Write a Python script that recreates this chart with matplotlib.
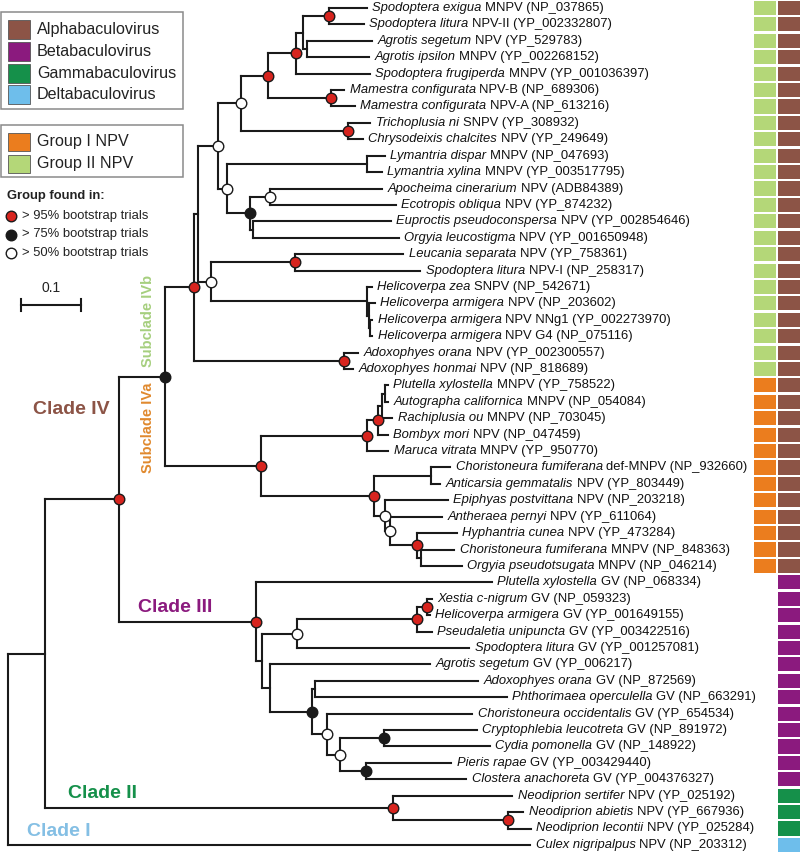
import re
import matplotlib
matplotlib.use('Agg')
import matplotlib.pyplot as plt
import matplotlib.transforms as mtransforms
from matplotlib.collections import LineCollection
from matplotlib.patches import Rectangle

plt.rcParams['font.family'] = ['Liberation Sans', 'DejaVu Sans']

# leaf labels, top to bottom (italic species part + plain rest)
species = [
    'Spodoptera exigua', 'Spodoptera litura', 'Agrotis segetum', 'Agrotis ipsilon',
    'Spodoptera frugiperda', 'Mamestra configurata', 'Mamestra configurata',
    'Trichoplusia ni', 'Chrysodeixis chalcites', 'Lymantria dispar', 'Lymantria xylina',
    'Apocheima cinerarium', 'Ecotropis obliqua', 'Euproctis pseudoconspersa',
    'Orgyia leucostigma', 'Leucania separata', 'Spodoptera litura', 'Helicoverpa zea',
    'Helicoverpa armigera', 'Helicoverpa armigera', 'Helicoverpa armigera',
    'Adoxophyes orana', 'Adoxophyes honmai', 'Plutella xylostella',
    'Autographa californica', 'Rachiplusia ou', 'Bombyx mori', 'Maruca vitrata',
    'Choristoneura fumiferana', 'Anticarsia gemmatalis', 'Epiphyas postvittana',
    'Antheraea pernyi', 'Hyphantria cunea', 'Choristoneura fumiferana',
    'Orgyia pseudotsugata', 'Plutella xylostella', 'Xestia c-nigrum',
    'Helicoverpa armigera', 'Pseudaletia unipuncta', 'Spodoptera litura',
    'Agrotis segetum', 'Adoxophyes orana', 'Phthorimaea operculella',
    'Choristoneura occidentalis', 'Cryptophlebia leucotreta', 'Cydia pomonella',
    'Pieris rapae', 'Clostera anachoreta', 'Neodiprion sertifer', 'Neodiprion abietis',
    'Neodiprion lecontii', 'Culex nigripalpus',
]
suffixes = [
    'MNPV (NP_037865)', 'NPV-II (YP_002332807)', 'NPV (YP_529783)', 'MNPV (YP_002268152)',
    'MNPV (YP_001036397)', 'NPV-B (NP_689306)', 'NPV-A (NP_613216)', 'SNPV (YP_308932)',
    'NPV (YP_249649)', 'MNPV (NP_047693)', 'MNPV (YP_003517795)', 'NPV (ADB84389)',
    'NPV (YP_874232)', 'NPV (YP_002854646)', 'NPV (YP_001650948)', 'NPV (YP_758361)',
    'NPV-I (NP_258317)', 'SNPV (NP_542671)', 'NPV (NP_203602)', 'NPV NNg1 (YP_002273970)',
    'NPV G4 (NP_075116)', 'NPV (YP_002300557)', 'NPV (NP_818689)', 'MNPV (YP_758522)',
    'MNPV (NP_054084)', 'MNPV (NP_703045)', 'NPV (NP_047459)', 'MNPV (YP_950770)',
    'def-MNPV (NP_932660)', 'NPV (YP_803449)', 'NPV (NP_203218)', 'NPV (YP_611064)',
    'NPV (YP_473284)', 'MNPV (NP_848363)', 'MNPV (NP_046214)', 'GV (NP_068334)',
    'GV (NP_059323)', 'GV (YP_001649155)', 'GV (YP_003422516)', 'GV (YP_001257081)',
    'GV (YP_006217)', 'GV (NP_872569)', 'GV (NP_663291)', 'GV (YP_654534)',
    'GV (NP_891972)', 'GV (NP_148922)', 'GV (YP_003429440)', 'GV (YP_004376327)',
    'NPV (YP_025192)', 'NPV (YP_667936)', 'NPV (YP_025284)', 'NPV (NP_203312)',
]

# genus / NPV group of every leaf, top to bottom
genus_names = ['Alphabaculovirus', 'Betabaculovirus', 'Gammabaculovirus', 'Deltabaculovirus']
genus_counts = [35, 13, 3, 1]
group_names = ['Group I NPV', 'Group II NPV']
group_of_leaf = ['II'] * 23 + ['I'] * 12

# tree (Newick, leaves are row numbers, r/b/w = >95 / >75 / >50 % bootstrap)
sub_a = '((1:0.063,2:0.058)r:0.043,(3:0.108,4:0.102):0.007)'
sub_b = '(((' + sub_a + ':0.012,5:0.123)r:0.047,(6:0.022,7:0.040)r:0.105)r:0.045,(8:0.038,9:0.025)r:0.178)w'
sub_c = '((10:0.030,11:0.025):0.233,((12:0.187,13:0.210)w:0.033,(14:0.230,15:0.243):0.005)b:0.038)w'
sub_d = '((16:0.180,17:0.208)r:0.140,(18:0.007,(19:0.010,(20:0.003,21:0.003):0.003):0.002):0.260)w'
subclade_ivb = '(((' + sub_b + ':0.038,' + sub_c + ':0.015)w:0.033,' + sub_d + ':0.022):0.007,(22:0.023,23:0.015)r:0.250)r'
subclade_iva = ('(((((24:0.005,25:0.005):0.005,26:0.017):0.007,27:0.017)r:0.017,28:0.035)r:0.177,'
                '((29:0.032,30:0.015):0.095,(31:0.105,(32:0.087,(33:0.067,(34:0.055,35:0.067):0.008)r:0.045)w:0.008)w:0.018)r:0.188)r')
clade_iii = ('(36:0.393,((((37:0.008,38:0.005)r:0.017,39:0.025)r:0.200,40:0.288)w:0.058,'
             '(41:0.267,((42:0.272,43:0.320):0.005,(44:0.243,((45:0.155,46:0.177)b:0.072,'
             '(47:0.143,48:0.168)b:0.042)w:0.023)w:0.025)b:0.070):0.013):0.010)r')
clade_ii = '(49:0.198,(50:0.025,51:0.037)r:0.192)r'
newick = ('((((' + subclade_ivb + ':0.048,' + subclade_iva + ':0.160)b:0.077,' + clade_iii
          + ':0.228)r:0.123,' + clade_ii + ':0.580):0.062,52:0.870);')

genus_colors = ['#8c5446', '#8b1a7e', '#15904a', '#6ebeeb']
group_colors = {'I': '#eb7d1e', 'II': '#b4d778'}
support_style = {'r': '#d7241e', 'b': '#1a1a1a', 'w': 'white'}


def parse(s):
    pos = 0

    def node():
        nonlocal pos
        n = {'children': [], 'name': '', 'len': 0.0}
        if s[pos] == '(':
            pos += 1
            while True:
                n['children'].append(node())
                if s[pos] == ',':
                    pos += 1
                else:
                    break
            pos += 1
        m = re.match(r'[^:,();]*', s[pos:])
        n['name'] = m.group(0)
        pos += len(n['name'])
        if s[pos] == ':':
            m = re.match(r':([0-9.]+)', s[pos:])
            n['len'] = float(m.group(1))
            pos += len(m.group(0))
        return n
    return node()


def layout(n, x0, out):
    n['x'] = x0 + n['len']
    if n['children']:
        for c in n['children']:
            layout(c, n['x'], out)
        n['y'] = (n['children'][0]['y'] + n['children'][-1]['y']) / 2
    else:
        n['y'] = int(n['name']) - 1
    out.append(n)


tree = parse(newick)
nodes = []
layout(tree, 0.0, nodes)

W, H = 800, 852
fig = plt.figure(figsize=(W / 100, H / 100), dpi=100)
ax = fig.add_axes([0, 0, 1, 1])
ax.set_xlim(-8 / 600, (W - 8) / 600)
ax.set_ylim((H - 8) / 16.41, -8 / 16.41)
ax.axis('off')
pxt = mtransforms.Affine2D().scale(1 / W, -1 / H).translate(0, 1) + fig.transFigure
cellt = mtransforms.blended_transform_factory(pxt, ax.transData)

segs = []
for n in nodes:
    if n['children']:
        segs.append([(n['x'], n['children'][0]['y']), (n['x'], n['children'][-1]['y'])])
        for c in n['children']:
            segs.append([(n['x'], c['y']), (c['x'], c['y'])])
ax.add_collection(LineCollection(segs, colors='#1a1a1a', linewidths=1.5, capstyle='projecting', zorder=2))

for n in nodes:
    if n['name'] in support_style:
        ax.plot(n['x'], n['y'], 'o', ms=7.6, mfc=support_style[n['name']], mec='#1a1a1a', mew=1.0, zorder=3)

leaves = sorted([n for n in nodes if not n['children']], key=lambda n: n['y'])
for n, sp, rest in zip(leaves, species, suffixes):
    t = ax.annotate(sp, xy=(n['x'], n['y']), xytext=(4, 0), textcoords='offset points',
                    style='italic', va='center', fontsize=9.4, color='#111111')
    ax.annotate(rest, xy=(1, 0.5), xycoords=t, xytext=(2.6, 0), textcoords='offset points',
                va='center', fontsize=9.4, color='#111111')

# colour columns
row = 0
for g, cnt in enumerate(genus_counts):
    for i in range(cnt):
        ax.add_patch(Rectangle((778, row - 0.43), 23, 0.86, transform=cellt, color=genus_colors[g], lw=0))
        row += 1
for i, grp in enumerate(group_of_leaf):
    ax.add_patch(Rectangle((753.5, i - 0.43), 22, 0.86, transform=cellt, color=group_colors[grp], lw=0))

# legend boxes
for y0, y1 in [(12, 109), (125, 177)]:
    fig.patches.append(Rectangle((1, y0), 182, y1 - y0, transform=pxt, fill=False, ec='#8a8a8a', lw=1.1))
for name, col, yc in zip(genus_names, genus_colors, [29.5, 51.5, 73, 94.5]):
    fig.patches.append(Rectangle((7.5, yc - 9.5), 22, 19, transform=pxt, fc=col, ec='#555555', lw=0.6))
    fig.text(37, yc, name, transform=pxt, va='center', fontsize=11.6, color='#222222')
for name, col, yc in zip(group_names, [group_colors['I'], group_colors['II']], [141.5, 163.5]):
    fig.patches.append(Rectangle((7.5, yc - 9), 22, 18, transform=pxt, fc=col, ec='#555555', lw=0.6))
    fig.text(37, yc, name, transform=pxt, va='center', fontsize=11.6, color='#222222')

fig.text(7, 196, 'Group found in:', transform=pxt, va='center', fontsize=9.4, fontweight='bold', color='#222222')
for key, lab, yc in zip(['r', 'b', 'w'], ['95', '75', '50'], [216, 234.5, 253]):
    ax.plot([11], [yc], 'o', ms=7.6, mfc=support_style[key], mec='#1a1a1a', mew=1.0, transform=pxt, clip_on=False)
    fig.text(22, yc, f'> {lab}% bootstrap trials', transform=pxt, va='center', fontsize=9.4, color='#222222')

# scale bar
sx0 = (21 - 8) / 600
sy = (305 - 8) / 16.41
ax.plot([sx0, sx0 + 0.1], [sy, sy], color='#1a1a1a', lw=1.5)
for xx in [sx0, sx0 + 0.1]:
    ax.plot([xx, xx], [sy - 0.37, sy + 0.37], color='#1a1a1a', lw=1.5)
ax.text(sx0 + 0.05, sy - 0.6, '0.1', ha='center', va='bottom', fontsize=10, color='#222222')

# clade labels
bold = dict(fontweight='bold', transform=pxt, va='center')
fig.text(33, 410, 'Clade IV', color='#8c5446', fontsize=14, **bold)
fig.text(138, 607, 'Clade III', color='#8b1a7e', fontsize=14, **bold)
fig.text(68, 793, 'Clade II', color='#15904a', fontsize=14, **bold)
fig.text(27, 831, 'Clade I', color='#84bfe4', fontsize=14, **bold)
fig.text(148, 321, 'Subclade IVb', color='#a6cf7e', fontsize=10.5, rotation=90, ha='center', **bold)
fig.text(148, 428, 'Subclade IVa', color='#e0892e', fontsize=10.5, rotation=90, ha='center', **bold)

fig.savefig('out.png', dpi=100)
